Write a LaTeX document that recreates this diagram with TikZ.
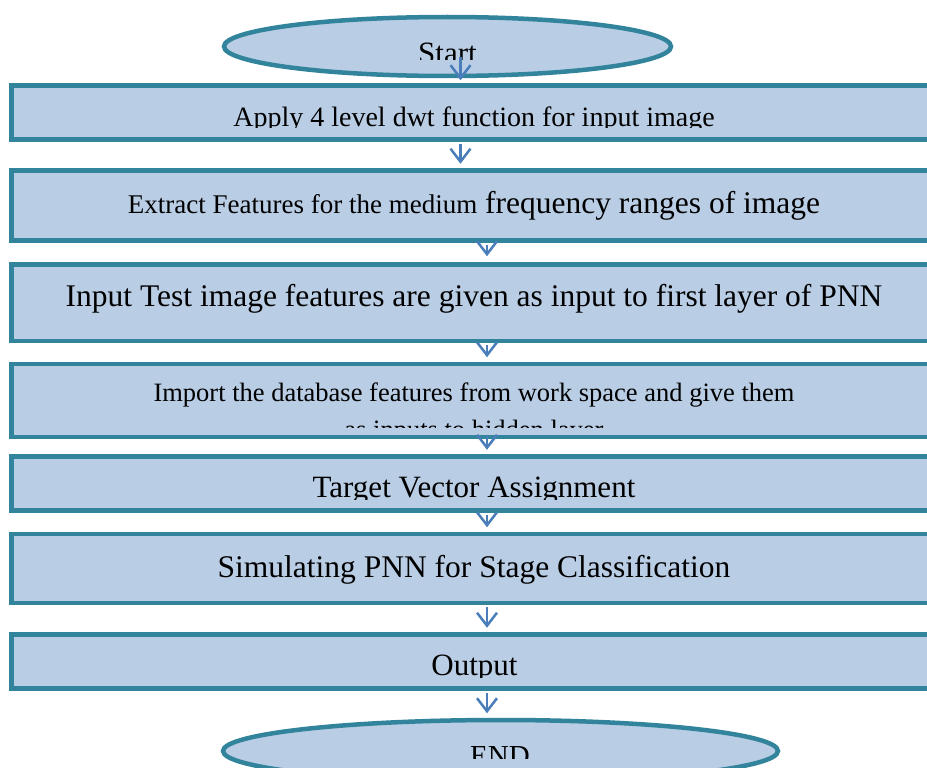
\documentclass[tikz,border=0pt]{standalone}
\usepackage{fontspec}
\setmainfont{Liberation Serif}
\usetikzlibrary{shapes.geometric,arrows.meta,calc}
\definecolor{relleno}{HTML}{B9CDE5}
\definecolor{borde}{HTML}{31849B}
\definecolor{azulflecha}{HTML}{4A7EBB}
\newcommand{\letra}[1]{\fontsize{#1}{#1}\selectfont}
\tikzset{
  caja/.style={draw=borde,fill=relleno,line width=4.5pt,minimum width=925pt,inner sep=0pt},
  elipse/.style={ellipse,draw=borde,fill=relleno,line width=4.5pt,inner sep=0pt},
  texto/.style={anchor=base,inner sep=0pt,text=black,font=\letra{31.5}},
  flecha/.style={-{Straight Barb[length=13pt,width=20pt]},line width=2.5pt,azulflecha,shorten <=2pt,shorten >=4.5pt},
}

\begin{document}
\begin{tikzpicture}[x=1pt,y=-1pt]
  \fill[white,use as bounding box] (0,0) rectangle (927,768);
  \clip (0,0) rectangle (927,768);
  % inicio
  \node[elipse,minimum width=447pt,minimum height=59pt] (inicio) at (447.5,46.5) {};
  \begin{scope}
    \clip (0,0) rectangle (927,60);
    \node[texto,font=\letra{31}] (tinicio) at (447.5,63.5) {Start};
  \end{scope}
  % pasos
  \node[caja,minimum height=54pt] (paso1) at (474,112.5) {};
  \begin{scope}
    \clip (0,80) rectangle (927,127);
    \node[texto,font=\letra{28}] (t1) at (474,126.5) {Apply 4 level dwt function for input image};
  \end{scope}
  \node[caja,minimum height=70pt] (paso2) at (474,205.5) {};
  \node[texto] (t2) at (474,213) {{\letra{27}Extract Features for the medium} frequency ranges of image};
  \node[caja,minimum height=76.5pt] (paso3) at (474,302.75) {};
  \node[texto] (t3) at (474,306) {Input Test image features are given as input to first layer of PNN};
  \node[caja,minimum height=73pt] (paso4) at (474,400.5) {};
  \node[texto,font=\letra{26.5}] (t4a) at (474,401.5) {Import the database features from work space and give them};
  \begin{scope}
    \clip (0,360) rectangle (927,427.3);
    \node[texto,font=\letra{26.5}] (t4b) at (474,438) {as inputs to hidden layer};
  \end{scope}
  \node[caja,minimum height=54pt] (paso5) at (474,483.5) {};
  \begin{scope}
    \clip (0,450) rectangle (927,499);
    \node[texto,font=\letra{31}] (t5) at (474,497.8) {Target Vector Assignment};
  \end{scope}
  \node[caja,minimum height=69pt] (paso6) at (474,568.5) {};
  \node[texto] (t6) at (474,577) {Simulating PNN for Stage Classification};
  \node[caja,minimum height=54pt] (paso7) at (474,661.5) {};
  \begin{scope}
    \clip (0,630) rectangle (927,677);
    \node[texto,font=\letra{31}] (t7) at (474.5,675.5) {Output};
  \end{scope}
  % fin
  \node[elipse,minimum width=555pt,minimum height=62pt] (fin) at (500.5,751) {};
  \begin{scope}
    \clip (0,700) rectangle (927,758);
    \node[texto,font=\letra{29}] (tfin) at (500,765) {END};
  \end{scope}
  % flechas
  \coordinate (eje1) at (460.5,0);
  \coordinate (eje2) at (487,0);
  \draw[flecha,shorten <=0pt,shorten >=3pt] ($(inicio.south -| eje1)+(0,-21)$) -- (paso1.north -| eje1);
  \draw[flecha] (paso1.south -| eje1) -- (paso2.north -| eje1);
  \draw[flecha,shorten >=6pt] (paso2.south -| eje2) -- (paso3.north -| eje2);
  \draw[flecha] (paso3.south -| eje2) -- (paso4.north -| eje2);
  \draw[flecha,shorten <=-3pt] (paso4.south -| eje2) -- (paso5.north -| eje2);
  \draw[flecha] (paso5.south -| eje2) -- (paso6.north -| eje2);
  \draw[flecha] (paso6.south -| eje2) -- (paso7.north -| eje2);
  \draw[flecha] (paso7.south -| eje2) -- (fin.north -| eje2);
\end{tikzpicture}
\end{document}
